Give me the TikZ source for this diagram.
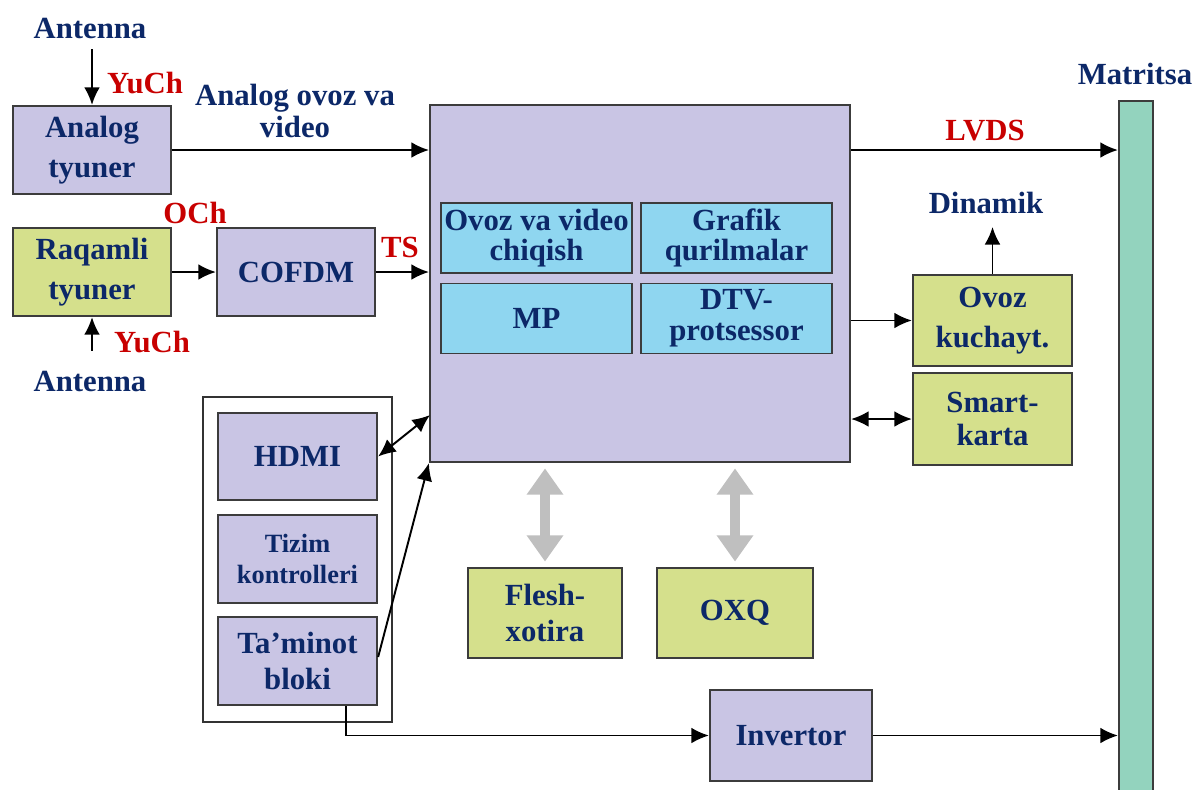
\documentclass[tikz,border=0pt]{standalone}
\usepackage{fontspec}
\setmainfont{Liberation Serif}
\usetikzlibrary{arrows.meta}
\definecolor{matn}{RGB}{12,40,104}
\definecolor{qizil}{RGB}{200,0,0}
\definecolor{binafsha}{RGB}{201,197,228}
\definecolor{yashil}{RGB}{213,224,140}
\definecolor{havorang}{RGB}{143,214,240}
\definecolor{firuza}{RGB}{147,211,190}
\definecolor{chiziq}{RGB}{60,60,60}
\tikzset{
  yozuv/.style={text=matn,font=\bfseries\fontsize{17.5}{18.5}\selectfont,align=center,inner sep=1pt},
  belgi/.style={text=qizil,font=\bfseries\fontsize{17.5}{19}\selectfont,inner sep=1pt},
  blok/.style={yozuv,draw=chiziq,line width=1.3pt,rectangle,font=\bfseries\fontsize{17.5}{23}\selectfont},
  violet/.style={blok,fill=binafsha},
  vert/.style={blok,fill=yashil},
  bleu/.style={blok,fill=havorang,line width=1.1pt,font=\bfseries\fontsize{17.5}{17.5}\selectfont},
  fleche/.style={line width=1.1pt,-{Latex[length=10pt,width=9pt]}},
  dfleche/.style={line width=1.1pt,{Latex[length=10pt,width=9pt]}-{Latex[length=10pt,width=9pt]}},
  gris/.style={line width=6pt,draw=black!25,
    {Triangle[length=15pt,width=20pt]}-{Triangle[length=15pt,width=20pt]}}
}
\begin{document}
\begin{tikzpicture}[x=0.02cm,y=-0.02cm]
\useasboundingbox (0,0) rectangle (1196,789);
\clip (0,0) rectangle (1196,789);

% tyuners
\node[violet,minimum width=3.16cm,minimum height=1.76cm] (analog) at (92,150) {Analog\\tyuner};
\node[vert,minimum width=3.16cm,minimum height=1.76cm] (raqamli) at (92,272) {Raqamli\\tyuner};
\node[violet,minimum width=3.16cm,minimum height=1.76cm] (cofdm) at (296,272) {COFDM};

\node[yozuv] (ant1) at (90,28) {Antenna};
\node[yozuv] (ant2) at (90,381) {Antenna};
\node[belgi] at (145,83) {YuCh};
\node[belgi] at (152,342) {YuCh};
\node[belgi] at (195,213) {OCh};
\node[belgi] at (400,247) {TS};
\node[yozuv] (aov) at (295,111) {Analog ovoz va\\video};

% protsessor va ichki bloklar
\node[violet,minimum width=8.4cm,minimum height=7.14cm] (proc) at (640,283.5) {};
\node[bleu,minimum width=3.82cm,minimum height=1.4cm] (ovid) at (536.5,238) {Ovoz va video\\chiqish};
\node[bleu,minimum width=3.82cm,minimum height=1.4cm] (grafik) at (736.5,238) {Grafik\\qurilmalar};
\node[bleu,minimum width=3.82cm,minimum height=1.4cm] (mp) at (536.5,318.5) {MP};
\node[bleu,minimum width=3.82cm,minimum height=1.4cm] (dtv) at (736.5,318.5) {DTV-\\protsessor};

% o'ng tomon
\node[draw=chiziq,line width=1.3pt,fill=firuza,minimum width=0.68cm,minimum height=14.38cm] (matr) at (1136,460.5) {};
\node[yozuv] (matrt) at (1135,74) {Matritsa};
\node[belgi] at (985,131) {LVDS};
\node[vert,minimum width=3.18cm,minimum height=1.82cm] (kuch) at (992.5,320.5) {Ovoz\\kuchayt.};
\node[vert,minimum width=3.18cm,minimum height=1.84cm,font=\bfseries\fontsize{17.5}{19}\selectfont] (smart) at (992.5,419) {Smart-\\karta};
\node[yozuv] (dinamik) at (986,203) {Dinamik};

% chap pastki guruh
\node[draw=black!80,line width=1pt,fill=white,minimum width=3.78cm,minimum height=6.5cm] (grp) at (297.5,559.5) {};
\node[violet,minimum width=3.18cm,minimum height=1.74cm] (hdmi) at (297.5,456.5) {HDMI};
\node[violet,minimum width=3.18cm,minimum height=1.76cm,font=\bfseries\fontsize{15}{18}\selectfont] (tizim) at (297.5,559) {Tizim\\kontrolleri};
\node[violet,minimum width=3.18cm,minimum height=1.76cm,font=\bfseries\fontsize{17.5}{20}\selectfont] (taminot) at (297.5,661) {Ta’minot\\bloki};

% xotira
\node[vert,minimum width=3.08cm,minimum height=1.8cm,font=\bfseries\fontsize{17.5}{21}\selectfont] (flesh) at (545,613) {Flesh-\\xotira};
\node[vert,minimum width=3.12cm,minimum height=1.8cm] (oxq) at (735,613) {OXQ};
\node[violet,minimum width=3.24cm,minimum height=1.82cm] (inv) at (791,735.5) {Invertor};

% ulanishlar
\draw[fleche] (ant1.south) ++(2,9) -- (analog.north);
\draw[fleche] (ant2.north) ++(2,-18) -- (raqamli.south);
\draw[fleche] (analog.east) -- (analog.east -| proc.west);
\draw[fleche] (raqamli.east) -- (cofdm.west);
\draw[fleche] (cofdm.east) -- (cofdm.east -| proc.west);
\draw[fleche] (analog.east -| proc.east) -- (analog.east -| matr.west);
\draw[fleche] (kuch.west -| proc.east) -- (kuch.west);
\draw[dfleche] (smart.west -| proc.east) -- (smart.west);
\draw[fleche] (kuch.north) -- ([yshift=-0.22cm]kuch.north |- dinamik.south);
\coordinate (hdmiin) at (430,415);
\draw[dfleche] (hdmi.east) -- (hdmiin);
\draw[fleche] ([yshift=0.08cm]taminot.east) -- (proc.south west);
\draw[fleche] ([xshift=0.97cm]taminot.south) |- (inv.west);
\draw[fleche] (inv.east) -- (inv.east -| matr.west);
\draw[gris,shorten <=3pt,shorten >=3pt] (proc.south -| flesh.north) -- (flesh.north);
\draw[gris,shorten <=3pt,shorten >=3pt] (proc.south -| oxq.north) -- (oxq.north);
\end{tikzpicture}
\end{document}
